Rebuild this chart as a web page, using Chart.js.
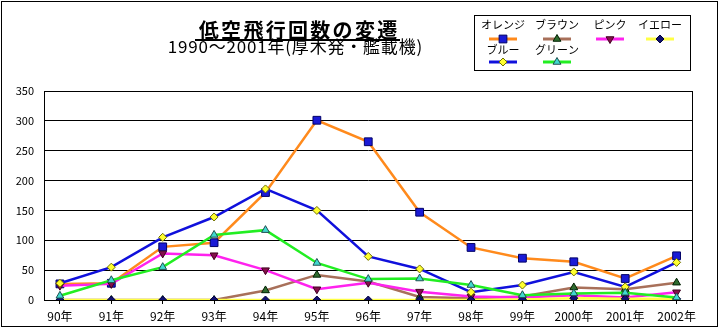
<!DOCTYPE html>
<html>
<head>
<meta charset="utf-8">
<script src="https://cdn.jsdelivr.net/npm/chart.js@4/dist/chart.umd.min.js"></script>
<style>
  body { margin: 0; background: #fff; }
</style>
</head>
<body>
<canvas id="chart" width="720" height="330"></canvas>
<script>
const years = ['90年', '91年', '92年', '93年', '94年', '95年', '96年', '97年', '98年', '99年', '2000年', '2001年', '2002年'];
const yTicks = [0, 50, 100, 150, 200, 250, 300, 350];

const orange = [27, 28, 89, 96, 180, 301, 265, 147, 88, 70, 64, 36, 74];
const brown = [0, 0, 0, 0, 16, 42, 31, 5, 3, 6, 21, 18, 29];
const pink = [24, 27, 78, 75, 50, 18, 29, 14, 6, 4, 8, 4, 13];
const yellow = [0, 0, 0, 0, 0, 0, 0, 0, 0, 1, 3, 2, 2];
const blue = [28, 55, 105, 139, 186, 150, 73, 52, 13, 25, 47, 22, 63];
const green = [7, 33, 55, 109, 117, 62, 35, 36, 25, 8, 11, 12, 4];

const seriesNames = ['オレンジ', 'ブラウン', 'ピンク', 'イエロー', 'ブルー', 'グリーン'];
const seriesData = [orange, brown, pink, yellow, blue, green];

// line colour, marker fill, marker border, marker style, rotation, radius
const styles = [
  { line: '#ff8a1c', fill: '#1a1ad6', edge: '#000066', shape: 'rect', rot: 0, r: 5.5 },
  { line: '#a8705a', fill: '#2f6b2f', edge: '#002000', shape: 'triangle', rot: 0, r: 4.5 },
  { line: '#ff22ee', fill: '#84104a', edge: '#400020', shape: 'triangle', rot: 180, r: 4.5 },
  { line: '#ffff44', fill: '#101070', edge: '#000040', shape: 'rectRot', rot: 0, r: 4 },
  { line: '#1010dc', fill: '#ffff30', edge: '#707000', shape: 'rectRot', rot: 0, r: 4 },
  { line: '#22ee22', fill: '#40d8d0', edge: '#205050', shape: 'triangle', rot: 0, r: 4.5 }
];

const FONT = '"Noto Sans CJK JP", "Noto Sans", sans-serif';

function drawMarker(ctx, s, x, y) {
  ctx.save();
  ctx.fillStyle = s.fill;
  ctx.strokeStyle = s.edge;
  ctx.lineWidth = 1;
  ctx.beginPath();
  if (s.shape === 'rect') {
    const h = s.r * Math.SQRT1_2;
    ctx.rect(x - h, y - h, 2 * h, 2 * h);
  } else if (s.shape === 'rectRot') {
    ctx.moveTo(x, y - s.r);
    ctx.lineTo(x + s.r, y);
    ctx.lineTo(x, y + s.r);
    ctx.lineTo(x - s.r, y);
    ctx.closePath();
  } else {
    const a0 = s.rot * Math.PI / 180;
    for (let k = 0; k < 3; k++) {
      const a = a0 - Math.PI / 2 + k * 2 * Math.PI / 3;
      const px = x + Math.cos(a) * s.r, py = y + Math.sin(a) * s.r;
      if (k === 0) ctx.moveTo(px, py); else ctx.lineTo(px, py);
    }
    ctx.closePath();
  }
  ctx.fill();
  ctx.stroke();
  ctx.restore();
}

// draw text one glyph at a time so the total width matches the original
function spacedText(ctx, text, cx, y, extra) {
  const widths = [...text].map(c => ctx.measureText(c).width + extra);
  const total = widths.reduce((a, b) => a + b, 0) - extra;
  let x = cx - total / 2;
  ctx.textAlign = 'left';
  [...text].forEach((c, i) => {
    ctx.fillText(c, x, y);
    x += widths[i];
  });
  ctx.textAlign = 'center';
}

const decor = {
  id: 'decor',
  beforeDraw(chart) {
    const ctx = chart.ctx;
    ctx.save();
    ctx.fillStyle = '#fff';
    ctx.fillRect(0, 0, chart.width, chart.height);
    ctx.restore();
  },
  beforeDatasetsDraw(chart) {
    const ctx = chart.ctx;
    const a = chart.chartArea;
    ctx.save();
    ctx.strokeStyle = '#000';
    ctx.lineWidth = 1;
    ctx.strokeRect(Math.round(a.left) + 0.5, Math.round(a.top) + 0.5, Math.round(a.right - a.left), Math.round(a.bottom - a.top));
    ctx.restore();
  },
  afterDraw(chart) {
    const ctx = chart.ctx;
    ctx.save();
    // outer frame
    ctx.strokeStyle = '#000';
    ctx.lineWidth = 1;
    ctx.strokeRect(1.5, 1.5, 716, 325);

    // title, spaced out like the original
    ctx.fillStyle = '#000';
    ctx.textAlign = 'center';
    ctx.textBaseline = 'middle';
    ctx.font = 'bold 20px ' + FONT;
    spacedText(ctx, '低空飛行回数の変遷', 298, 30, 2.3);
    ctx.lineWidth = 2;
    ctx.beginPath();
    ctx.moveTo(195, 40);
    ctx.lineTo(400, 40);
    ctx.stroke();

    ctx.font = '17px ' + FONT;
    spacedText(ctx, '1990〜2001年(厚木発・艦載機)', 295, 47, 0.8);

    // legend box
    ctx.lineWidth = 1;
    ctx.strokeRect(474.5, 15.5, 216, 55);
    const cols = [503, 557, 610, 660];
    const rows = [[25, 39], [50, 62]];
    ctx.font = '11px ' + FONT;
    seriesNames.forEach((name, i) => {
      const cx = cols[i % 4];
      const r = rows[Math.floor(i / 4)];
      const s = styles[i];
      ctx.fillStyle = '#000';
      ctx.fillText(name, cx, r[0]);
      ctx.strokeStyle = s.line;
      ctx.lineWidth = 3;
      ctx.beginPath();
      ctx.moveTo(cx - 14, r[1]);
      ctx.lineTo(cx + 14, r[1]);
      ctx.stroke();
      drawMarker(ctx, s, cx, r[1]);
    });
    ctx.restore();
  }
};

new Chart(document.getElementById('chart'), {
  type: 'line',
  data: {
    datasets: seriesData.map((vals, i) => ({
      label: seriesNames[i],
      data: vals.map((v, j) => ({ x: j, y: v })),
      borderColor: styles[i].line,
      borderWidth: 2.5,
      tension: 0,
      pointStyle: styles[i].shape,
      pointRotation: styles[i].rot,
      pointRadius: styles[i].r,
      pointBackgroundColor: styles[i].fill,
      pointBorderColor: styles[i].edge,
      pointBorderWidth: 1,
      order: seriesData.length - i
    }))
  },
  options: {
    responsive: false,
    animation: false,
    events: [],
    layout: { padding: { left: 0, right: 28, top: 91, bottom: 0 } },
    plugins: { legend: { display: false }, title: { display: false }, tooltip: { enabled: false } },
    scales: {
      x: {
        type: 'linear',
        min: -0.31,
        max: 12.3,
        afterFit: (scale) => { scale.height = 30; },
        afterBuildTicks: (scale) => { scale.ticks = years.map((_, i) => ({ value: i })); },
        ticks: {
          autoSkip: false,
          maxRotation: 0,
          padding: 5,
          color: '#000',
          font: { family: FONT, size: 12 },
          callback: (v) => years[v]
        },
        grid: { drawOnChartArea: false, tickLength: 4, color: '#000' },
        border: { color: '#000' }
      },
      y: {
        min: 0,
        max: 350,
        afterFit: (scale) => { scale.width = 44; },
        afterBuildTicks: (scale) => { scale.ticks = yTicks.map(v => ({ value: v })); },
        ticks: {
          padding: 10,
          color: '#000',
          font: { family: FONT, size: 11 }
        },
        grid: { color: '#000', drawTicks: false },
        border: { color: '#000' }
      }
    }
  },
  plugins: [decor]
});
</script>
</body>
</html>
